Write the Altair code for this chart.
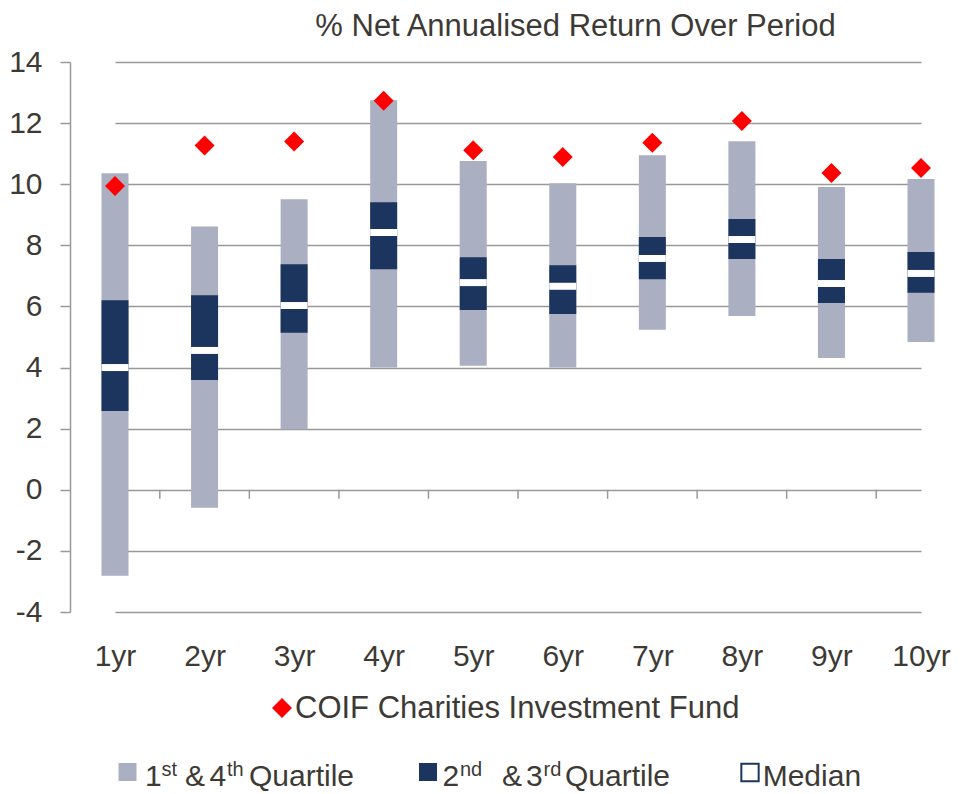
import altair as alt
import pandas as pd

# ---- data ----
periods = ["1yr", "2yr", "3yr", "4yr", "5yr", "6yr", "7yr", "8yr", "9yr", "10yr"]
low    = [-2.81, -0.59, 1.98, 4.00, 4.06, 4.00, 5.24, 5.69, 4.31, 4.84]
q1     = [2.58, 3.59, 5.14, 7.22, 5.88, 5.75, 6.89, 7.55, 6.11, 6.45]
median = [4.00, 4.56, 6.03, 8.42, 6.78, 6.66, 7.57, 8.19, 6.75, 7.08]
q3     = [6.20, 6.37, 7.38, 9.41, 7.61, 7.35, 8.27, 8.86, 7.55, 7.78]
high   = [10.36, 8.62, 9.51, 12.75, 10.76, 10.03, 10.95, 11.41, 9.91, 10.17]
coif   = [9.94, 11.27, 11.40, 12.73, 11.11, 10.89, 11.36, 12.07, 10.37, 10.53]
y_ticks = [-4, -2, 0, 2, 4, 6, 8, 10, 12, 14]

title_text = "% Net Annualised Return Over Period"
fund_label = "COIF Charities Investment Fund"

df = pd.DataFrame({"period": periods, "low": low, "q1": q1, "median": median,
                   "q3": q3, "high": high, "coif": coif})
sep_df = pd.DataFrame({"period": periods[:-1], "zero": [0] * (len(periods) - 1)})

FONT = "Liberation Sans"
TXT = "#3d3a36"
LIGHT = "#aaafc2"
DARK = "#1c355e"
GRID = "#999999"

xscale = alt.Scale(type="point", range=[45, 851], padding=0)
yscale = alt.Scale(domain=[-4, 14], nice=False, zero=False)

x_axis = alt.Axis(title=None, domain=False, ticks=False, tickSize=0, grid=False,
                  labelPadding=53, labelBaseline="alphabetic", labelAngle=0,
                  labelFontSize=30, labelFont=FONT, labelColor=TXT)
y_axis = alt.Axis(title=None, values=y_ticks, labelExpr="'' + datum.value",
                  grid=True, gridColor=GRID, gridWidth=1.5,
                  domainColor=GRID, domainWidth=1.5,
                  tickColor=GRID, tickWidth=1.5, tickSize=10,
                  labelPadding=18, labelFontSize=30, labelFont=FONT,
                  labelColor=TXT)

X = alt.X("period:N", sort=periods, scale=xscale, axis=x_axis)


def Y(field):
    return alt.Y(f"{field}:Q", scale=yscale, axis=y_axis)


outer = alt.Chart(df).mark_bar(size=27, color=LIGHT).encode(
    x=X, y=Y("low"), y2="high:Q")

inner = alt.Chart(df).mark_bar(size=27, color=DARK).encode(
    x=X, y=Y("q1"), y2="q3:Q")

med = alt.Chart(df).mark_tick(orient="horizontal", size=27, thickness=7,
                              color="white", opacity=1).encode(
    x=X, y=Y("median"))

seps = alt.Chart(sep_df).mark_tick(orient="vertical", size=9, thickness=1.5,
                                   color=GRID, opacity=1, xOffset=44.8, yOffset=4.5).encode(
    x=X, y=Y("zero"))

pts = alt.Chart(df).mark_point(shape="diamond", filled=True, size=400,
                               color="#ff0000", opacity=1).encode(
    x=X, y=Y("coif"))

one = pd.DataFrame({"k": [0]})


def txt(s, x, y, size=30, align="left"):
    return alt.Chart(one).mark_text(text=s, fontSize=size, font=FONT, color=TXT,
                                    align=align, baseline="alphabetic").encode(
        x=alt.value(x), y=alt.value(y))


def sym(shape, x, y, size, fill, stroke=None, sw=0):
    kw = dict(shape=shape, size=size, fill=fill, fillOpacity=1, opacity=1)
    if stroke:
        kw.update(stroke=stroke, strokeWidth=sw, strokeOpacity=1)
    else:
        kw.update(strokeWidth=0)
    return alt.Chart(one).mark_point(**kw).encode(x=alt.value(x), y=alt.value(y))


title = txt(title_text, 505.5, -26, 31, "center")

BASE = 724
SUP = 714
SS = 20
leg = [
    sym("diamond", 212, 646, 400, "#ff0000"),
    txt(fund_label, 225, 656, 31),
    sym("square", 57.5, 710, 324, LIGHT),
    txt("1", 75, BASE), txt("st", 91.5, SUP, SS), txt("&", 115, BASE), txt("4", 139.5, BASE),
    txt("th", 157, SUP, SS), txt("Quartile", 179, BASE),
    sym("square", 358, 710, 324, DARK),
    txt("2", 372.5, BASE), txt("nd", 390, SUP, SS), txt("&", 432, BASE), txt("3", 456, BASE),
    txt("rd", 473.5, SUP, SS), txt("Quartile", 495, BASE),
    sym("square", 680, 710.5, 300, "white", DARK, 2),
    txt("Median", 692.7, BASE),
]

chart = alt.layer(outer, inner, med, seps, pts, title, *leg).properties(
    width=882, height=550,
    autosize=alt.AutoSizeParams(type="none"),
    padding={"left": 62, "top": 54, "right": 0, "bottom": 184},
).configure_view(strokeWidth=0)

chart.save("out.html", embed_options={"renderer": "svg", "actions": False})
